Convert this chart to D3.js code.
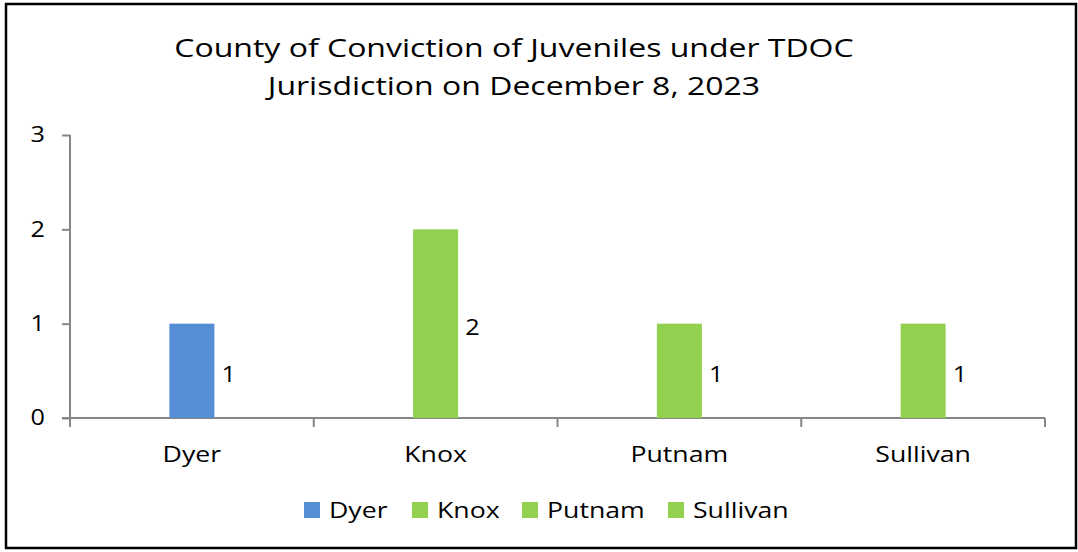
<!DOCTYPE html>
<html>
<head>
<meta charset="utf-8">
<script src="https://cdn.jsdelivr.net/npm/d3@7"></script>
<style>
  body { margin: 0; background: #fff; }
  svg { display: block; }
</style>
</head>
<body>
<svg id="chart" width="1078" height="552"></svg>
<script>
let counties = ["Dyer", "Knox", "Putnam", "Sullivan"];
let counts = [1, 2, 1, 1];
let barColors = ["#558ed5", "#92d050", "#92d050", "#92d050"];
let yTicks = [0, 1, 2, 3];
let titleLines = ["County of Conviction of Juveniles under TDOC", "Jurisdiction on December 8, 2023"];

let width = 1078, height = 552;
let margin = {left: 70, right: 33, top: 135, bottom: 134};
let font = "'Open Sans', 'Noto Sans', sans-serif";

let svg = d3.select("#chart").style("font-family", font);

// the original text looks wide, so stretch glyphs sideways
function stretch(sel, f) {
        sel.each(function () {
                let w = this.getComputedTextLength();
                this.setAttribute("textLength", w * f);
                this.setAttribute("lengthAdjust", "spacingAndGlyphs");
        });
}

// outer frame
svg.append("rect")
        .attr("x", 6).attr("y", 4)
        .attr("width", 1070).attr("height", 544)
        .attr("fill", "#fff")
        .attr("stroke", "#000")
        .attr("stroke-width", 2.5);

let title = svg.append("g")
        .selectAll("text")
        .data(titleLines)
        .join("text")
        .attr("text-anchor", "middle")
        .attr("font-size", 26)
        .attr("fill", "#000")
        .attr("x", 514)
        .attr("y", (d, i) => 57 + i * 38)
        .text(d => d);
stretch(title, 1.23);

let x = d3.scaleBand()
        .domain(counties)
        .range([margin.left, width - margin.right]);

let y = d3.scaleLinear()
        .domain([0, 3])
        .range([height - margin.bottom, margin.top]);

let axisColor = "#868686";

// y axis
let yAxis = svg.append("g")
        .attr("transform", `translate(${margin.left},0)`)
        .call(d3.axisLeft(y).tickValues(yTicks).tickSize(8).tickPadding(17).tickFormat(d3.format("d")));
yAxis.select(".domain").attr("stroke", axisColor).attr("stroke-width", 2).attr("d", `M0,${y(3)}V${y(0)}`);
yAxis.selectAll(".tick line").attr("stroke", axisColor).attr("stroke-width", 2);
yAxis.selectAll(".tick text").attr("font-size", 21).attr("fill", "#000").attr("font-family", font);
stretch(yAxis.selectAll(".tick text"), 1.2);

// x axis, ticks between categories
let xAxisG = svg.append("g")
        .attr("transform", `translate(0,${y(0)})`);
xAxisG.append("line")
        .attr("x1", margin.left - 8).attr("x2", width - margin.right)
        .attr("stroke", axisColor).attr("stroke-width", 2);
let bounds = counties.map(c => x(c)).concat([x(counties[counties.length - 1]) + x.bandwidth()]);
xAxisG.selectAll(".sep")
        .data(bounds)
        .join("line")
        .attr("x1", d => d).attr("x2", d => d)
        .attr("y1", 0).attr("y2", 9)
        .attr("stroke", axisColor).attr("stroke-width", 2);
let cats = xAxisG.selectAll(".cat")
        .data(counties)
        .join("text")
        .attr("x", d => x(d) + x.bandwidth() / 2)
        .attr("y", 44)
        .attr("text-anchor", "middle")
        .attr("font-size", 21)
        .attr("fill", "#000")
        .text(d => d);
stretch(cats, 1.27);

// bars
let barW = 45;
svg.append("g")
        .selectAll("rect")
        .data(counties)
        .join("rect")
        .attr("x", d => x(d) + x.bandwidth() / 2 - barW / 2)
        .attr("width", barW)
        .attr("y", (d, i) => y(counts[i]))
        .attr("height", (d, i) => y(0) - y(counts[i]))
        .attr("fill", (d, i) => barColors[i]);

// data labels
let labels = svg.append("g")
        .selectAll("text")
        .data(counties)
        .join("text")
        .attr("x", d => x(d) + x.bandwidth() / 2 + barW / 2 + 7)
        .attr("y", (d, i) => (y(counts[i]) + y(0)) / 2 + 11)
        .attr("font-size", 21)
        .attr("fill", "#000")
        .text((d, i) => counts[i]);
stretch(labels, 1.2);

// legend
let legendX = [304, 412, 522, 668];
let legend = svg.append("g")
        .selectAll("g")
        .data(counties)
        .join("g")
        .attr("transform", (d, i) => `translate(${legendX[i]},502)`);
legend.append("rect")
        .attr("width", 16).attr("height", 16)
        .attr("fill", (d, i) => barColors[i]);
let legendText = legend.append("text")
        .attr("x", 25).attr("y", 16)
        .attr("font-size", 21)
        .attr("fill", "#000")
        .text(d => d);
stretch(legendText, 1.27);
</script>
</body>
</html>
